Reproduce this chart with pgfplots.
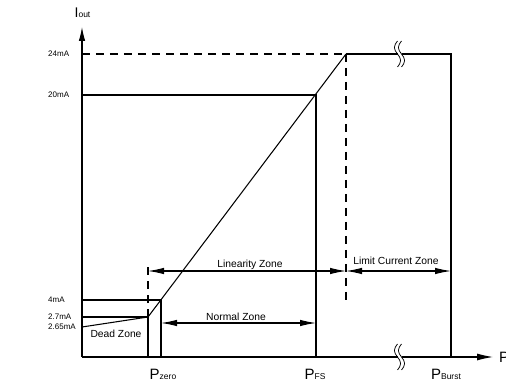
\documentclass[border=0pt]{standalone}
\usepackage{pgfplots}
\pgfplotsset{compat=1.18}
\usepackage{fontspec}
\setmainfont{Liberation Sans}
\usetikzlibrary{arrows.meta}
\newcommand{\lbl}{\fontsize{10.3}{11}\selectfont}
\newcommand{\Psub}[1]{{\fontsize{15}{15}\selectfont P}{\fontsize{8.5}{9}\selectfont #1}}
\begin{document}
\begin{tikzpicture}
\useasboundingbox (-82pt,-26pt) rectangle (424pt,357pt);
\begin{axis}[
 at={(0,0)},anchor=south west,
 x=1pt,y=1pt,
 xmin=82,xmax=493,ymin=0,ymax=330,
 axis x line=bottom,axis y line=left,
 axis line style={draw=none},
 major tick length=0pt,
 clip=false,
 ytick={30,40,57,262,303},
 yticklabels={2.65mA,2.7mA,4mA,20mA,24mA},
 yticklabel style={font=\fontsize{8}{8}\selectfont,anchor=west,xshift=-34pt,inner sep=0pt},
 xtick={163,315,446},
 xticklabels={\Psub{zero},\Psub{FS},\Psub{Burst}},
 xticklabel style={anchor=base,yshift=-22pt,inner sep=0pt},
 cycle list={{black,solid,mark=none}},
 every axis plot/.append style={black,line width=1.05pt,mark=none},
]
% axes
\addplot[-{Latex[length=14pt,width=6.5pt]}] coordinates {(82,0) (82,330)};
\addplot coordinates {(82,0) (397.5,0)};
\addplot[-{Latex[length=16pt,width=7pt]}] coordinates {(401.5,0) (493,0)};
% levels
\addplot[dash pattern=on 8pt off 6pt] coordinates {(82,303) (346,303)};
\addplot coordinates {(346,303) (397.5,303)};
\addplot coordinates {(401.5,303) (451,303) (451,0)};
\addplot coordinates {(82,262) (316,262) (316,0)};
\addplot coordinates {(82,57) (161,57) (161,0)};
\addplot coordinates {(82,40) (148,40) (148,0)};
% transfer curve
\addplot coordinates {(82,30) (148,40) (346,303)};
% zone boundaries
\addplot[dash pattern=on 8pt off 6pt] coordinates {(148,40) (148,92)};
\addplot[dash pattern=on 8pt off 6pt] coordinates {(346,303) (346,56)};
% zone arrows
\addplot[{Latex[length=16pt,width=6.5pt]}-{Latex[length=16pt,width=6.5pt]}] coordinates {(148,86) (346,86)};
\addplot[{Latex[length=16pt,width=6.5pt]}-{Latex[length=16pt,width=6.5pt]}] coordinates {(346,86) (451,86)};
\addplot[{Latex[length=16pt,width=6.5pt]}-{Latex[length=16pt,width=6.5pt]}] coordinates {(161,34) (316,34)};
% break marks
\addplot[line width=0.75pt,smooth] coordinates {(397.5,13) (395.3,9.8) (394.4,6.5) (395.3,3.2) (397.5,0) (399.7,-3.2) (400.6,-6.5) (399.7,-9.8) (397.5,-13)};
\addplot[line width=0.75pt,smooth] coordinates {(401.5,13) (399.3,9.8) (398.4,6.5) (399.3,3.2) (401.5,0) (403.7,-3.2) (404.6,-6.5) (403.7,-9.8) (401.5,-13)};
\addplot[line width=0.75pt,smooth] coordinates {(397.5,316) (395.3,312.8) (394.4,309.5) (395.3,306.2) (397.5,303) (399.7,299.8) (400.6,296.5) (399.7,293.2) (397.5,290)};
\addplot[line width=0.75pt,smooth] coordinates {(401.5,316) (399.3,312.8) (398.4,309.5) (399.3,306.2) (401.5,303) (403.7,299.8) (404.6,296.5) (403.7,293.2) (401.5,290)};
% labels
\node[font=\lbl] at (axis cs:250,92.5) {Linearity Zone};
\node[font=\lbl] at (axis cs:396,96) {Limit Current Zone};
\node[font=\lbl] at (axis cs:236,40) {Normal Zone};
\node[font=\lbl] at (axis cs:116,23) {Dead Zone};
\node[anchor=base,inner sep=0pt] at (axis cs:82.5,339) {{\fontsize{14}{14}\selectfont I}{\fontsize{8.5}{9}\selectfont out}};
\node[anchor=base west,inner sep=0pt] at (axis cs:499,-5) {\fontsize{15}{15}\selectfont P};
\end{axis}
\end{tikzpicture}
\end{document}
